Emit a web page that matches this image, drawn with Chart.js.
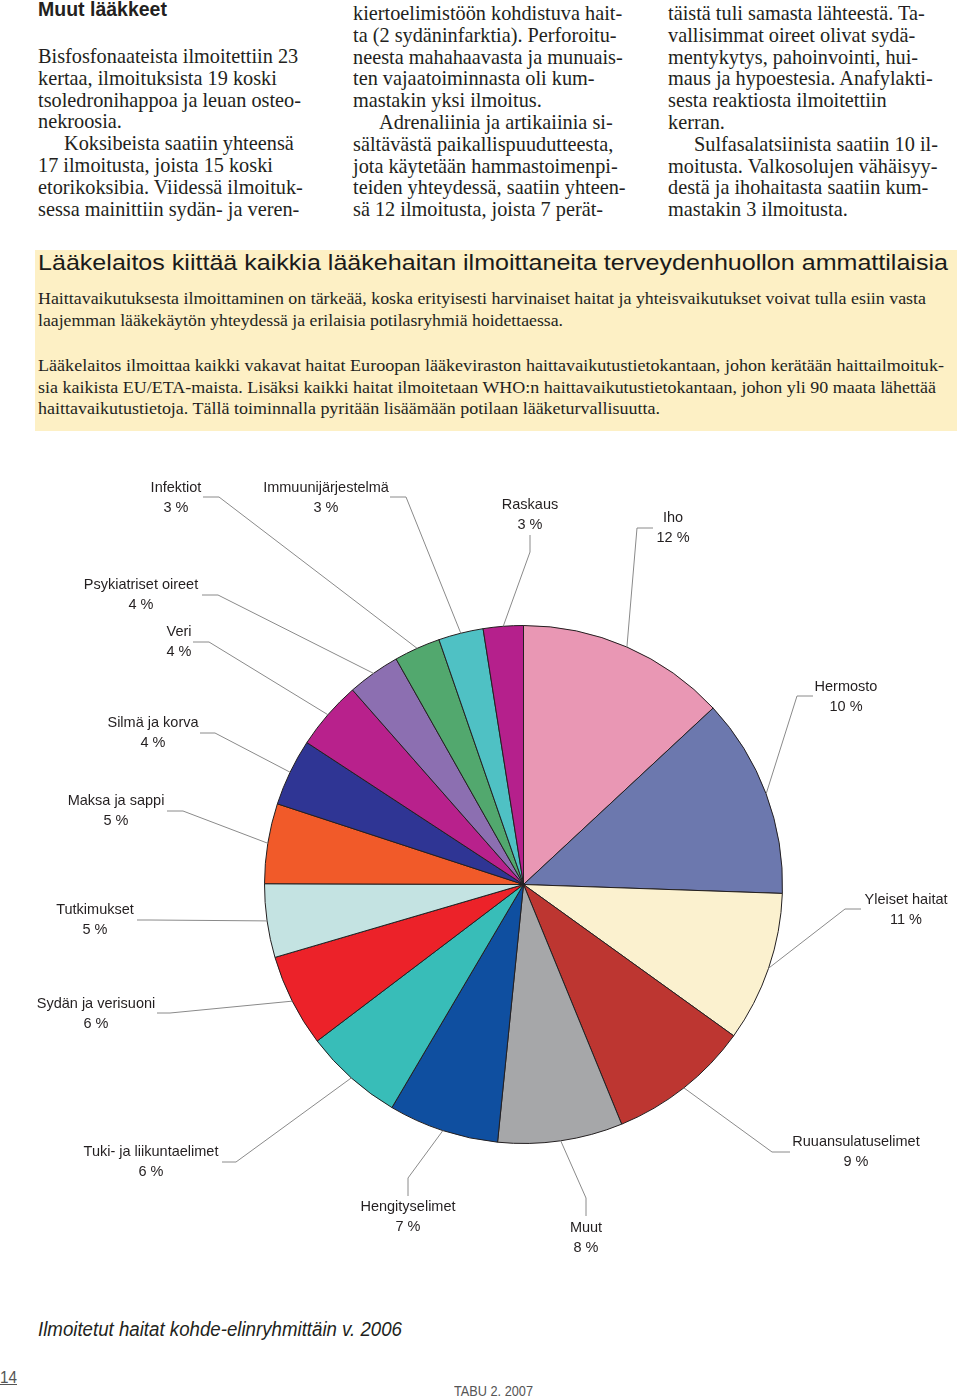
<!DOCTYPE html>
<html lang="fi">
<head>
<meta charset="utf-8">
<title>Ilmoitetut haitat kohde-elinryhmittäin v. 2006</title>
<script src="https://cdn.jsdelivr.net/npm/chart.js@4.4.1/dist/chart.umd.min.js"></script>
<style>
  html, body { margin: 0; padding: 0; background: #fff; }
  body { width: 960px; height: 1398px; position: relative; overflow: hidden; color: #231f20; }
  .col { position: absolute; font-family: "Liberation Serif", serif; font-size: 20.3px; line-height: 21.8px; }
  .col div { white-space: nowrap; }
  .ind { padding-left: 26px; }
  .head { position: absolute; left: 38px; top: -2px; font-family: "Liberation Sans", Arial, sans-serif; font-weight: bold; font-size: 19.5px; }
  .box { position: absolute; left: 35px; top: 250px; width: 922px; height: 181px; background: #fdf0c5; }
  .fit { position: absolute; white-space: nowrap; transform-origin: 0 50%; }
  .boxh { font-family: "Liberation Sans", Arial, sans-serif; font-size: 22px; color: #1a1a1a; }
  .boxp { font-family: "Liberation Serif", serif; font-size: 17px; }
  #chartWrap { position: absolute; left: 0; top: 460px; width: 960px; height: 820px; }
  .caption { font-family: "Liberation Sans", Arial, sans-serif; font-style: italic; font-size: 20px; }
  .foot { font-family: "Liberation Sans", Arial, sans-serif; color: #555; }
</style>
</head>
<body>

<div class="head">Muut lääkkeet</div>

<div class="col" style="left:38px; top:46px;">
  <div>Bisfosfonaateista ilmoitettiin 23</div>
  <div>kertaa, ilmoituksista 19 koski</div>
  <div>tsoledronihappoa ja leuan osteo-</div>
  <div>nekroosia.</div>
  <div class="ind">Koksibeista saatiin yhteensä</div>
  <div>17 ilmoitusta, joista 15 koski</div>
  <div>etorikoksibia. Viidessä ilmoituk-</div>
  <div>sessa mainittiin sydän- ja veren-</div>
</div>

<div class="col" style="left:353px; top:3px;">
  <div>kiertoelimistöön kohdistuva hait-</div>
  <div>ta (2 sydäninfarktia). Perforoitu-</div>
  <div>neesta mahahaavasta ja munuais-</div>
  <div>ten vajaatoiminnasta oli kum-</div>
  <div>mastakin yksi ilmoitus.</div>
  <div class="ind">Adrenaliinia ja artikaiinia si-</div>
  <div>sältävästä paikallispuudutteesta,</div>
  <div>jota käytetään hammastoimenpi-</div>
  <div>teiden yhteydessä, saatiin yhteen-</div>
  <div>sä 12 ilmoitusta, joista 7 perät-</div>
</div>

<div class="col" style="left:668px; top:3px;">
  <div>täistä tuli samasta lähteestä. Ta-</div>
  <div>vallisimmat oireet olivat sydä-</div>
  <div>mentykytys, pahoinvointi, hui-</div>
  <div>maus ja hypoestesia. Anafylakti-</div>
  <div>sesta reaktiosta ilmoitettiin</div>
  <div>kerran.</div>
  <div class="ind">Sulfasalatsiinista saatiin 10 il-</div>
  <div>moitusta. Valkosolujen vähäisyy-</div>
  <div>destä ja ihohaitasta saatiin kum-</div>
  <div>mastakin 3 ilmoitusta.</div>
</div>

<div class="box"></div>
<div class="fit boxh" data-w="910" style="left:38px; top:250px;">Lääkelaitos kiittää kaikkia lääkehaitan ilmoittaneita terveydenhuollon ammattilaisia</div>
<div class="fit boxp" data-w="888" style="left:38px; top:289px;">Haittavaikutuksesta ilmoittaminen on tärkeää, koska erityisesti harvinaiset haitat ja yhteisvaikutukset voivat tulla esiin vasta</div>
<div class="fit boxp" data-w="525" style="left:38px; top:311px;">laajemman lääkekäytön yhteydessä ja erilaisia potilasryhmiä hoidettaessa.</div>
<div class="fit boxp" data-w="906" style="left:38px; top:356px;">Lääkelaitos ilmoittaa kaikki vakavat haitat Euroopan lääkeviraston haittavaikutustietokantaan, johon kerätään haittailmoituk-</div>
<div class="fit boxp" data-w="898" style="left:38px; top:378px;">sia kaikista EU/ETA-maista. Lisäksi kaikki haitat ilmoitetaan WHO:n haittavaikutustietokantaan, johon yli 90 maata lähettää</div>
<div class="fit boxp" data-w="622" style="left:38px; top:399px;">haittavaikutustietoja. Tällä toiminnalla pyritään lisäämään potilaan lääketurvallisuutta.</div>

<div id="chartWrap"><canvas id="pie" width="960" height="820"></canvas></div>

<div class="fit caption" data-w="364" style="left:38px; top:1318px;">Ilmoitetut haitat kohde-elinryhmittäin v. 2006</div>
<div class="fit foot" data-w="17" style="left:0px; top:1368px; font-size:17px; text-decoration:underline;">14</div>
<div class="fit foot" data-w="79" style="left:454px; top:1383px; font-size:14px;">TABU 2. 2007</div>

<script>
// categories in clockwise order from 12 o'clock
var categories = ['Iho', 'Hermosto', 'Yleiset haitat', 'Ruuansulatuselimet', 'Muut',
  'Hengityselimet', 'Tuki- ja liikuntaelimet', 'Sydän ja verisuoni', 'Tutkimukset',
  'Maksa ja sappi', 'Silmä ja korva', 'Veri', 'Psykiatriset oireet', 'Infektiot',
  'Immuunijärjestelmä', 'Raskaus'];
// printed percentages next to each label
var percentLabels = ['12 %', '10 %', '11 %', '9 %', '8 %', '7 %', '6 %', '6 %', '5 %',
  '5 %', '4 %', '4 %', '4 %', '3 %', '3 %', '3 %'];
// slice shares (%)
var sliceShares = [13.1, 12.5, 9.4, 8.9, 7.8, 6.9, 6.2, 5.8, 4.6, 5.0, 4.2, 4.3, 3.3, 2.9, 2.8, 2.5];
var sliceColors = ['#e997b4', '#6c78ae', '#fbf1cf', '#bd3631', '#a6a7a9', '#0f4fa0',
  '#38bdb8', '#ec2229', '#c4e3e2', '#f15a29', '#2f3594', '#b8218c', '#8c6fb1',
  '#52a86e', '#4fc1c4', '#b5208c'];

// label layout (page pixels): text centre, and leader points from pie edge to text
var canvasTop = 460;
var labelPos = [
  [673, 518], [846, 687], [906, 900], [856, 1142], [586, 1228], [408, 1207],
  [151, 1152], [96, 1004], [95, 910], [116, 801], [153, 723], [179, 632],
  [141, 585], [176, 488], [326, 488], [530, 505]
];
var leaderPts = [
  [[637, 528], [653, 528]],
  [[797, 696], [813, 696]],
  [[845, 909], [861, 909]],
  [[772, 1152], [790, 1152]],
  [[586, 1198], [586, 1216]],
  [[408, 1178], [408, 1196]],
  [[236, 1162], [222, 1162]],
  [[170, 1013], [157, 1013]],
  [[150, 920], [137, 920]],
  [[183, 811], [167, 811]],
  [[215, 733], [200, 733]],
  [[209, 642], [193, 642]],
  [[218, 595], [202, 595]],
  [[219, 497], [203, 497]],
  [[406, 497], [390, 497]],
  [[530, 552], [530, 535]]
];

var leaderLabels = {
  id: 'leaderLabels',
  afterDatasetsDraw: function(chart) {
    var ctx = chart.ctx;
    var arcs = chart.getDatasetMeta(0).data;
    ctx.save();
    ctx.strokeStyle = '#8a8a8a';
    ctx.lineWidth = 1;
    arcs.forEach(function(arc, i) {
      var p = arc.getProps(['x', 'y', 'startAngle', 'endAngle', 'outerRadius'], true);
      var mid = (p.startAngle + p.endAngle) / 2;
      ctx.beginPath();
      ctx.moveTo(p.x + Math.cos(mid) * p.outerRadius, p.y + Math.sin(mid) * p.outerRadius);
      leaderPts[i].forEach(function(pt) {
        ctx.lineTo(pt[0], pt[1] - canvasTop);
      });
      ctx.stroke();
    });
    ctx.fillStyle = '#231f20';
    ctx.font = '14.5px "Liberation Sans", Arial, sans-serif';
    ctx.textAlign = 'center';
    ctx.textBaseline = 'middle';
    categories.forEach(function(name, i) {
      var x = labelPos[i][0], y = labelPos[i][1] - canvasTop;
      ctx.fillText(name, x, y);
      ctx.fillText(percentLabels[i], x, y + 19.5);
    });
    ctx.restore();
  }
};

new Chart(document.getElementById('pie').getContext('2d'), {
  type: 'pie',
  data: {
    labels: categories,
    datasets: [{
      data: sliceShares,
      backgroundColor: sliceColors,
      borderColor: '#231f20',
      borderWidth: 1,
      hoverOffset: 0
    }]
  },
  options: {
    responsive: false,
    animation: false,
    devicePixelRatio: 1,
    layout: { padding: { left: 264, right: 177, top: 165, bottom: 136 } },
    plugins: {
      legend: { display: false },
      tooltip: { enabled: false }
    }
  },
  plugins: [leaderLabels]
});

// squeeze/stretch single text lines to the widths they have on the page
document.querySelectorAll('.fit').forEach(function(el) {
  var target = Number(el.dataset.w);
  var actual = el.getBoundingClientRect().width;
  if (actual > 0) el.style.transform = 'scaleX(' + (target / actual) + ')';
});
</script>
</body>
</html>
